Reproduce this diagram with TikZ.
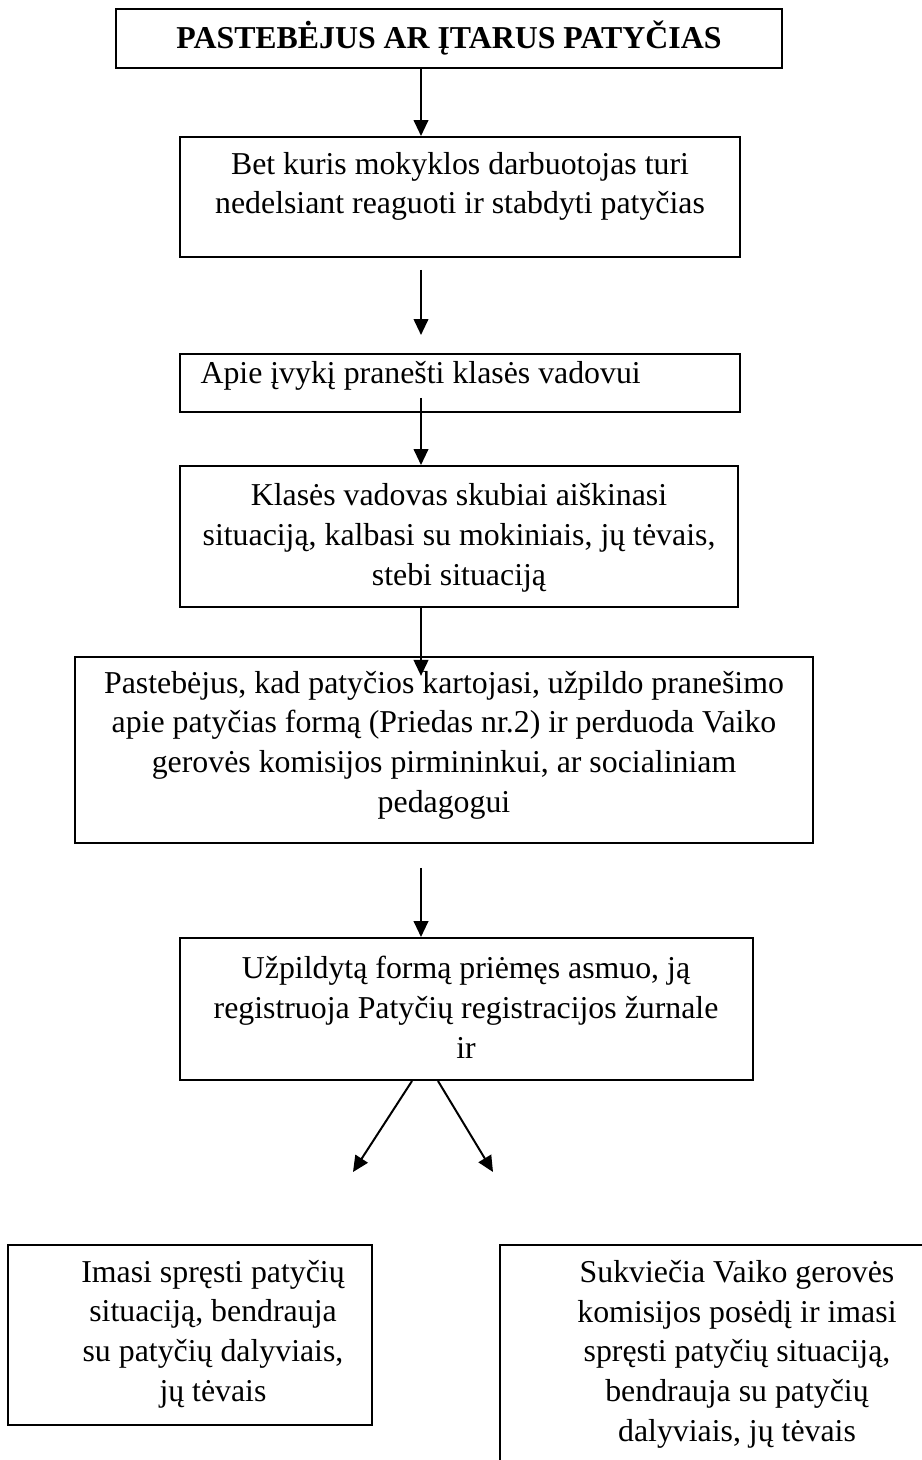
\documentclass[tikz,border=0pt]{standalone}
\usepackage{fontspec}
\setmainfont{Liberation Serif}
\usetikzlibrary{arrows.meta, fit}

\begin{document}
\begin{tikzpicture}[
            x = .377pt, y = -.377pt,
            every node/.style={font=\fontsize{12}{14.9}\selectfont},
            box/.style={draw, line width=.75pt, inner sep=0pt},
            txt/.style={align=center, anchor=base, inner sep=0pt},
            arrow/.style={line width=.75pt, -{Triangle[length=6pt, width=5.5pt]}},
            ]

        \useasboundingbox (0, 0) rectangle (921, 1460);

        \node[box, fit={(116, 9) (782, 68)}] (0) {};
        \node[box, fit={(180, 137) (740, 257)}] (1) {};
        \node[box, fit={(180, 354) (740, 412)}] (2) {};
        \node[box, fit={(180, 466) (738, 607)}] (3) {};
        \node[box, fit={(75, 657) (813, 843)}] (4) {};
        \node[box, fit={(180, 938) (753, 1080)}] (5) {};
        \node[box, fit={(8, 1245) (372, 1425)}] (6) {};
        \node[box, fit={(500, 1245) (940, 1480)}] (7) {};

        % multi-line texts sit on the baseline of their last line
        \node[txt, font=\fontsize{12}{14.9}\selectfont\bfseries] (t0) at (449, 49) {PASTEBĖJUS AR ĮTARUS PATYČIAS};
        \node[txt] (t1) at (460, 214) {Bet kuris mokyklos darbuotojas turi\\nedelsiant reaguoti ir stabdyti patyčias};
        \node[txt, anchor=base west] (t2) at (200, 383) {Apie įvykį pranešti klasės vadovui};
        \node[txt] (t3) at (459, 585) {Klasės vadovas skubiai aiškinasi\\situaciją, kalbasi su mokiniais, jų tėvais,\\stebi situaciją};
        \node[txt] (t4) at (444, 812) {Pastebėjus, kad patyčios kartojasi, užpildo pranešimo\\apie patyčias formą (Priedas nr.2) ir perduoda Vaiko\\gerovės komisijos pirmininkui, ar socialiniam\\pedagogui};
        \node[txt] (t5) at (466, 1058) {Užpildytą formą priėmęs asmuo, ją\\registruoja Patyčių registracijos žurnale\\ir};
        \node[txt] (t6) at (213, 1401) {Imasi spręsti patyčių\\situaciją, bendrauja\\su patyčių dalyviais,\\jų tėvais};
        \node[txt] (t7) at (737, 1441) {Sukviečia Vaiko gerovės\\komisijos posėdį ir imasi\\spręsti patyčių situaciją,\\bendrauja su patyčių\\dalyviais, jų tėvais};

        \coordinate (ax) at (421, 0);
        \coordinate (lx) at (412, 0);
        \coordinate (rx) at (438, 0);
        \coordinate (l) at (353, 1172);
        \coordinate (r) at (493, 1172);

        \draw[arrow] (ax |- 0.south) -- (ax |- 1.north);
        \draw[arrow, shorten <=4.5pt, shorten >=6.8pt] (ax |- 1.south) -- (ax |- 2.north);
        \draw[arrow, shorten <=-5.7pt] (ax |- 2.south) -- (ax |- 3.north);
        \draw[arrow, shorten >=-7.5pt] (ax |- 3.south) -- (ax |- 4.north);
        \draw[arrow, shorten <=9pt] (ax |- 4.south) -- (ax |- 5.north);
        \draw[arrow] (lx |- 5.south) -- (l);
        \draw[arrow] (rx |- 5.south) -- (r);
    \end{tikzpicture}
\end{document}
